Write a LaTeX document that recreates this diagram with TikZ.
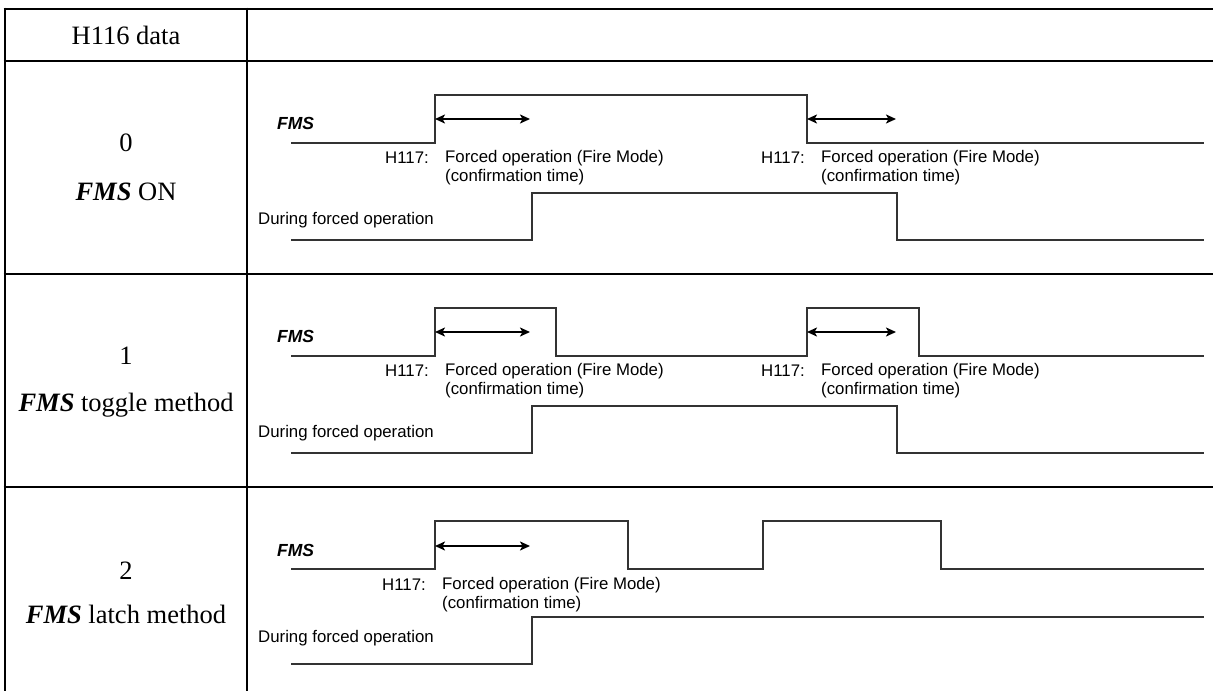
\documentclass[tikz,border=0pt]{standalone}
\usepackage{fontspec}
\setmainfont{Liberation Serif}
\setsansfont{Liberation Sans}
\usetikzlibrary{arrows.meta, positioning}

\begin{document}
\begin{tikzpicture}[x=1pt, y=-1pt,
    rule/.style={line width=2.8pt},
    wave/.style={line width=1.3pt, black!80},
    span/.style={{Stealth[length=10pt,width=9pt,inset=2.5pt]}-{Stealth[length=10pt,width=9pt,inset=2.5pt]}, line width=2pt},
    lbl/.style={font=\sffamily\fontsize{16.8}{19}\selectfont, inner sep=0pt},
    sig/.style={font=\sffamily\bfseries\itshape\fontsize{17.5}{19}\selectfont, inner sep=0pt},
    cell/.style={font=\fontsize{26.5}{30}\selectfont, inner sep=0pt}]

    \useasboundingbox (0,0) rectangle (1213,691);

    % table rules
    \draw[rule] (3.5,9) -- (1213,9);
    \draw[rule] (3.5,61) -- (1213,61);
    \draw[rule] (3.5,274) -- (1213,274);
    \draw[rule] (3.5,487) -- (1213,487);
    \draw[rule] (5,7.6) -- (5,691);
    \draw[rule] (247,7.6) -- (247,691);

    \node[cell] (head) at (126,35) {H116 data};

    % row 0: FMS ON
    \begin{scope}[shift={(0,61)}]
        \node[cell] (valA) at (126,82) {0};
        \node[cell] (modeA) at (126,131) {\textbf{\textit{FMS}} ON};

        \node[sig, anchor=west] (fmsA) at (277,62) {FMS};
        \draw[wave] (291,82) -- (435,82) -- (435,34) -- (807,34) -- (807,82) -- (1204,82);
        \coordinate (sA1) at (435,58); \coordinate (eA1) at (530,58);
        \coordinate (sA2) at (807,58); \coordinate (eA2) at (896,58);
        \draw[span] (sA1) -- (eA1);
        \draw[span] (sA2) -- (eA2);

        \node[lbl, anchor=west] (fA1) at (445,97) {Forced operation (Fire Mode)};
        \node[lbl, left=16pt of fA1] (hA1) {H117:};
        \node[lbl, anchor=west] (cA1) at (445,116) {(confirmation time)};
        \node[lbl, anchor=west] (fA2) at (821,97) {Forced operation (Fire Mode)};
        \node[lbl, left=16pt of fA2] (hA2) {H117:};
        \node[lbl, anchor=west] (cA2) at (821,116) {(confirmation time)};

        \node[lbl, anchor=west] (durA) at (258,159) {During forced operation};
        \draw[wave] (291,179) -- (532,179) -- (532,132) -- (897,132) -- (897,179) -- (1204,179);
    \end{scope}

    % row 1: FMS toggle method
    \begin{scope}[shift={(0,274)}]
        \node[cell] (valB) at (126,82) {1};
        \node[cell] (modeB) at (126,131) {\textbf{\textit{FMS}} toggle method};

        \node[sig, anchor=west] (fmsB) at (277,62) {FMS};
        \draw[wave] (291,82) -- (435,82) -- (435,34) -- (556,34) -- (556,82)
            -- (807,82) -- (807,34) -- (919,34) -- (919,82) -- (1204,82);
        \coordinate (sB1) at (435,58); \coordinate (eB1) at (530,58);
        \coordinate (sB2) at (807,58); \coordinate (eB2) at (896,58);
        \draw[span] (sB1) -- (eB1);
        \draw[span] (sB2) -- (eB2);

        \node[lbl, anchor=west] (fB1) at (445,97) {Forced operation (Fire Mode)};
        \node[lbl, left=16pt of fB1] (hB1) {H117:};
        \node[lbl, anchor=west] (cB1) at (445,116) {(confirmation time)};
        \node[lbl, anchor=west] (fB2) at (821,97) {Forced operation (Fire Mode)};
        \node[lbl, left=16pt of fB2] (hB2) {H117:};
        \node[lbl, anchor=west] (cB2) at (821,116) {(confirmation time)};

        \node[lbl, anchor=west] (durB) at (258,159) {During forced operation};
        \draw[wave] (291,179) -- (532,179) -- (532,132) -- (897,132) -- (897,179) -- (1204,179);
    \end{scope}

    % row 2: FMS latch method
    \begin{scope}[shift={(0,487)}]
        \node[cell] (valC) at (126,84) {2};
        \node[cell] (modeC) at (126,127) {\textbf{\textit{FMS}} latch method};

        \node[sig, anchor=west] (fmsC) at (277,63) {FMS};
        \draw[wave] (291,82) -- (435,82) -- (435,34) -- (628,34) -- (628,82)
            -- (763,82) -- (763,34) -- (941,34) -- (941,82) -- (1204,82);
        \coordinate (sC1) at (435,59); \coordinate (eC1) at (530,59);
        \draw[span] (sC1) -- (eC1);

        \node[lbl, anchor=west] (fC1) at (442,98) {Forced operation (Fire Mode)};
        \node[lbl, left=16pt of fC1] (hC1) {H117:};
        \node[lbl, anchor=west] (cC1) at (442,117) {(confirmation time)};

        \node[lbl, anchor=west] (durC) at (258,151) {During forced operation};
        \draw[wave] (291,177) -- (532,177) -- (532,130) -- (1204,130);
    \end{scope}
\end{tikzpicture}
\end{document}
